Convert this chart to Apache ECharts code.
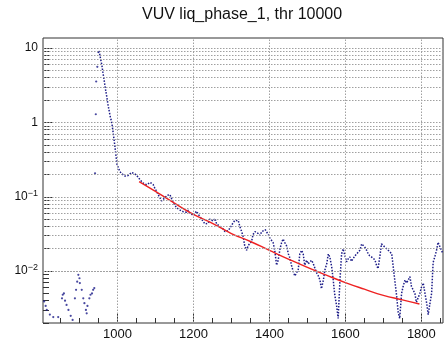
<!DOCTYPE html>
<html>
<head>
<meta charset="utf-8">
<script src="https://cdn.jsdelivr.net/npm/echarts@6/dist/echarts.min.js"></script>
<style>
html,body{margin:0;padding:0;background:#fff;}
#c{width:446px;height:341px;}
</style>
</head>
<body>
<div id="c"></div>
<script>
// ---- data ----
const titleText = 'VUV liq_phase_1, thr 10000';

// scattered low points (before the peak)
const lowX = [807,811,814,822,831,844,854,856,859,862,866,871,877,882,888,891,894,897,900,901,906,910,913,917,919,921,926,929,933,936,939,941,943,944,947];
const lowY = [0.0039,0.0034,0.0030,0.0026,0.0024,0.0024,0.0043,0.0048,0.0050,0.0040,0.0035,0.0030,0.0025,0.0022,0.0043,0.0056,0.0072,0.0089,0.0080,0.0069,0.0056,0.0043,0.0037,0.0030,0.0027,0.0034,0.0043,0.0048,0.0050,0.0056,0.0059,0.207,1.29,3.56,5.6];

// main spectrum
const mainX = [949,951,953,956,959,962,965,968,972,975,978,981,985,989,993,996,999,1002,1006,1011,1015,1020,1024,1028,1033,1037,1041,1046,1050,1055,1059,1064,1068,1072,1077,1081,1086,1090,1094,1098,1103,1107,1112,1116,1120,1125,1130,1134,1138,1142,1146,1151,1156,1160,1165,1169,1173,1178,1182,1186,1190,1195,1200,1204,1208,1213,1217,1222,1226,1231,1235,1239,1243,1248,1252,1257,1261,1265,1270,1274,1278,1283,1287,1292,1296,1300,1305,1309,1314,1318,1322,1327,1331,1335,1340,1344,1349,1353,1357,1362,1366,1371,1375,1380,1384,1389,1393,1397,1401,1406,1410,1414,1419,1423,1428,1432,1436,1441,1445,1450,1454,1458,1463,1467,1472,1476,1480,1485,1489,1493,1498,1502,1507,1511,1515,1520,1524,1528,1533,1537,1542,1546,1551,1555,1559,1564,1568,1572,1577,1581,1586,1590,1594,1599,1603,1607,1612,1616,1620,1625,1630,1634,1638,1643,1647,1651,1656,1660,1664,1669,1673,1678,1682,1686,1691,1695,1699,1704,1708,1713,1717,1722,1726,1730,1735,1739,1743,1748,1752,1757,1761,1765,1770,1774,1778,1783,1787,1792,1796,1800,1805,1809,1814,1818,1822,1827,1831,1836,1840,1844,1849,1853,1857];
const mainY = [8.6,9.3,8.4,7.0,5.9,4.6,3.7,2.9,2.2,1.75,1.45,1.2,1.0,0.71,0.49,0.36,0.27,0.25,0.22,0.205,0.196,0.19,0.185,0.193,0.205,0.213,0.214,0.203,0.194,0.183,0.170,0.160,0.152,0.147,0.145,0.150,0.156,0.152,0.146,0.132,0.118,0.107,0.097,0.088,0.083,0.097,0.104,0.107,0.107,0.103,0.086,0.077,0.071,0.068,0.066,0.065,0.063,0.061,0.062,0.066,0.061,0.058,0.056,0.056,0.064,0.058,0.054,0.050,0.046,0.043,0.045,0.044,0.050,0.050,0.047,0.051,0.043,0.042,0.040,0.038,0.037,0.034,0.033,0.035,0.038,0.041,0.045,0.048,0.050,0.048,0.040,0.034,0.029,0.022,0.019,0.022,0.023,0.025,0.031,0.034,0.035,0.032,0.030,0.034,0.035,0.036,0.034,0.031,0.028,0.027,0.024,0.019,0.012,0.014,0.020,0.024,0.027,0.024,0.022,0.017,0.015,0.012,0.0098,0.0086,0.0085,0.0105,0.017,0.019,0.017,0.012,0.014,0.0125,0.013,0.014,0.0128,0.0125,0.0095,0.0088,0.0076,0.0058,0.0075,0.0103,0.0126,0.017,0.0155,0.0114,0.0076,0.0048,0.0034,0.0023,0.0080,0.0170,0.0199,0.016,0.0133,0.0145,0.0155,0.0135,0.014,0.016,0.0171,0.018,0.019,0.0232,0.022,0.021,0.019,0.0171,0.016,0.0155,0.015,0.014,0.012,0.0108,0.016,0.0232,0.022,0.021,0.020,0.019,0.018,0.0171,0.0114,0.0076,0.0046,0.0028,0.0023,0.0050,0.0062,0.0076,0.0069,0.0075,0.0084,0.0062,0.0059,0.0050,0.0038,0.0037,0.0050,0.0060,0.0069,0.0052,0.0037,0.0026,0.0035,0.0050,0.013,0.016,0.019,0.0244,0.0232,0.019,0.0171];

// red fit curve
const fitX = [1057,1100,1150,1200,1250,1300,1350,1400,1450,1500,1550,1600,1650,1700,1750,1795];
const fitY = [0.160,0.118,0.082,0.058,0.044,0.032,0.025,0.019,0.0145,0.0112,0.0088,0.0070,0.0057,0.0047,0.0041,0.0036];

// axes
const xMin = 804, xMax = 1857;
const xMajor = [1000,1200,1400,1600,1800];
const xLabels = ['1000','1200','1400','1600','1800'];
const xMinor = [850,900,950,1050,1100,1150,1250,1300,1350,1450,1500,1550,1650,1700,1750,1850];
const yMin = 0.002, yMax = 13.7;
const yMajor = [0.01,0.1,1,10];
const yLabelBase = ['10','10','1','10'];
const yLabelExp = ['\u22122','\u22121','',''];
const yMinor = [0.002,0.003,0.004,0.005,0.006,0.007,0.008,0.009,0.02,0.03,0.04,0.05,0.06,0.07,0.08,0.09,0.2,0.3,0.4,0.5,0.6,0.7,0.8,0.9,2,3,4,5,6,7,8,9];

// ---- chart ----
const font = 'Liberation Sans, Arial, Helvetica, sans-serif';
const chart = echarts.init(document.getElementById('c'), null, {renderer:'canvas'});

const hGrid = yMajor.concat(yMinor).filter(v => v > yMin && v < yMax).map(v => ({yAxis: v}));
const vGrid = xMajor.map(v => ({xAxis: v}));

function yFmt(v) {
  const i = yMajor.findIndex(m => Math.abs(m - v) / m < 1e-6);
  if (i < 0) return '';
  return yLabelExp[i] ? '{b|' + yLabelBase[i] + '}{s|' + yLabelExp[i] + '}' : '{b|' + yLabelBase[i] + '}';
}
function xFmt(v) {
  const i = xMajor.indexOf(Math.round(v));
  return i < 0 ? '' : xLabels[i];
}

const option = {
  animation: false,
  backgroundColor: '#fff',
  title: {
    text: titleText,
    left: 142, top: 7, padding: 0,
    textStyle: {fontFamily: font, fontSize: 16, fontWeight: 'normal', color: '#111'}
  },
  grid: {left: 43, right: 3, top: 38, bottom: 14, show: true, borderColor: '#333', borderWidth: 1, backgroundColor: 'transparent'},
  xAxis: [
    {type: 'value', min: xMin, max: xMax, position: 'bottom',
     axisLine: {show: false},
     axisTick: {show: true, inside: true, length: 9, customValues: xMajor, lineStyle: {color: '#333'}},
     axisLabel: {customValues: xMajor, formatter: xFmt, fontFamily: font, fontSize: 13, color: '#111', margin: 5},
     splitLine: {show: false}},
    {type: 'value', min: xMin, max: xMax, position: 'bottom',
     axisLine: {show: false},
     axisTick: {show: true, inside: true, length: 5, customValues: xMinor, lineStyle: {color: '#333'}},
     axisLabel: {show: false}, splitLine: {show: false}}
  ],
  yAxis: [
    {type: 'log', logBase: 10, min: yMin, max: yMax, position: 'left',
     axisLine: {show: false},
     axisTick: {show: true, inside: true, length: 10, customValues: yMajor, lineStyle: {color: '#333'}},
     axisLabel: {customValues: yMajor, formatter: yFmt, margin: 5, color: '#111',
       rich: {b: {fontFamily: font, fontSize: 12, color: '#111'},
              s: {fontFamily: font, fontSize: 9, color: '#111', verticalAlign: 'bottom', padding: [0,0,7,0]}}},
     splitLine: {show: false}, minorTick: {show: false}},
    {type: 'log', logBase: 10, min: yMin, max: yMax, position: 'left', offset: 0,
     axisLine: {show: false},
     axisTick: {show: true, inside: true, length: 6, customValues: yMinor, lineStyle: {color: '#333'}},
     axisLabel: {show: false}, splitLine: {show: false}}
  ],
  series: [
    {type: 'line', name: 'grid', data: [], z: 1, silent: true,
     markLine: {silent: true, symbol: ['none','none'], label: {show: false}, animation: false,
       lineStyle: {type: [1.5, 1.5], color: '#a0a0a0', width: 1},
       emphasis: {disabled: true},
       data: hGrid.concat(vGrid)}},
    {type: 'scatter', name: 'low', z: 3,
     data: lowX.map((x, i) => [x, lowY[i]]),
     symbol: 'circle', symbolSize: 2.2, itemStyle: {color: '#1c1c88'}},
    {type: 'line', name: 'spectrum', z: 3,
     data: mainX.map((x, i) => [x, mainY[i]]),
     showSymbol: false, lineStyle: {type: [1.5, 1.5], width: 1.5, color: '#1c1c88'}},
    {type: 'line', name: 'fit', z: 4, smooth: true,
     data: fitX.map((x, i) => [x, fitY[i]]),
     showSymbol: false, lineStyle: {width: 1.4, color: '#ee2222'}}
  ]
};
chart.setOption(option);
</script>
</body>
</html>
